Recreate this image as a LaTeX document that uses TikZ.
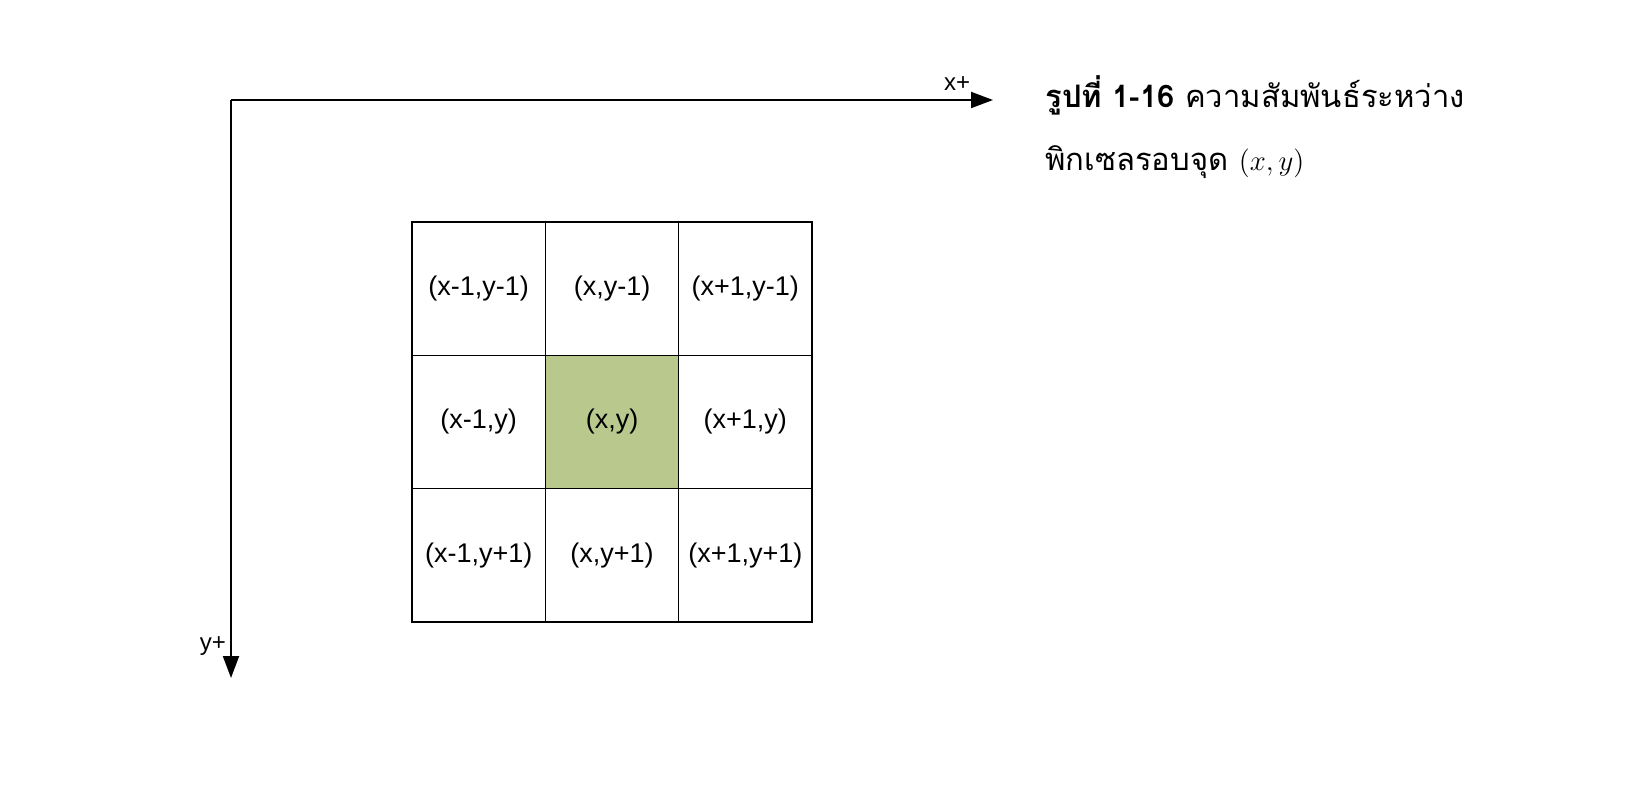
\documentclass[tikz,border=0pt]{standalone}
\usepackage{fontspec}
\setmainfont{Liberation Sans}
\newfontfamily\thaifont[Script=Thai]{Loma}
\usetikzlibrary{arrows.meta,positioning}
\definecolor{pixgreen}{RGB}{185,201,142}
\tikzset{>={Triangle[length=11pt,width=8pt]}}

\begin{document}
\begin{tikzpicture}[x=0.5pt,y=-0.5pt]
    \tikzset{cell/.style={draw,line width=0.6pt,minimum size=66.67pt,inner sep=0pt,outer sep=0pt,font=\fontsize{13.5}{15}\selectfont}}
    \tikzset{axislabel/.style={inner sep=0pt,font=\fontsize{12}{14}\selectfont}}
    \tikzset{caption/.style={anchor=base west,inner sep=0pt,font=\thaifont\fontsize{15.5}{18}\selectfont}}
    \useasboundingbox (0,0) rectangle (1642,808);

    % axes
    \coordinate (origin) at (231,100);
    \coordinate (xtip) at (993,100);
    \coordinate (ytip) at (231,678);
    \draw[->,line width=1pt] (origin) -- (xtip);
    \draw[->,line width=1pt] (origin) -- (ytip);
    \node[axislabel] (xlabel) at (957,84) {x+};
    \node[axislabel] (ylabel) at (213,646) {y+};

    % 3x3 neighbourhood
    \node[cell,fill=pixgreen] (c)  at (612,422) {(x,y)};
    \node[cell] (w)  [left=0pt of c]  {(x-1,y)};
    \node[cell] (e)  [right=0pt of c] {(x+1,y)};
    \node[cell] (n)  [above=0pt of c] {(x,y-1)};
    \node[cell] (s)  [below=0pt of c] {(x,y+1)};
    \node[cell] (nw) [left=0pt of n]  {(x-1,y-1)};
    \node[cell] (ne) [right=0pt of n] {(x+1,y-1)};
    \node[cell] (sw) [left=0pt of s]  {(x-1,y+1)};
    \node[cell] (se) [right=0pt of s] {(x+1,y+1)};

    % caption
    \node[caption] (cap1) at (1045,107) {\textbf{รูปที่ 1-16} ความสัมพันธ์ระหว่าง};
    \node[caption] (cap2) at (1045,170) {พิกเซลรอบจุด $(x,y)$};
\end{tikzpicture}
\end{document}
